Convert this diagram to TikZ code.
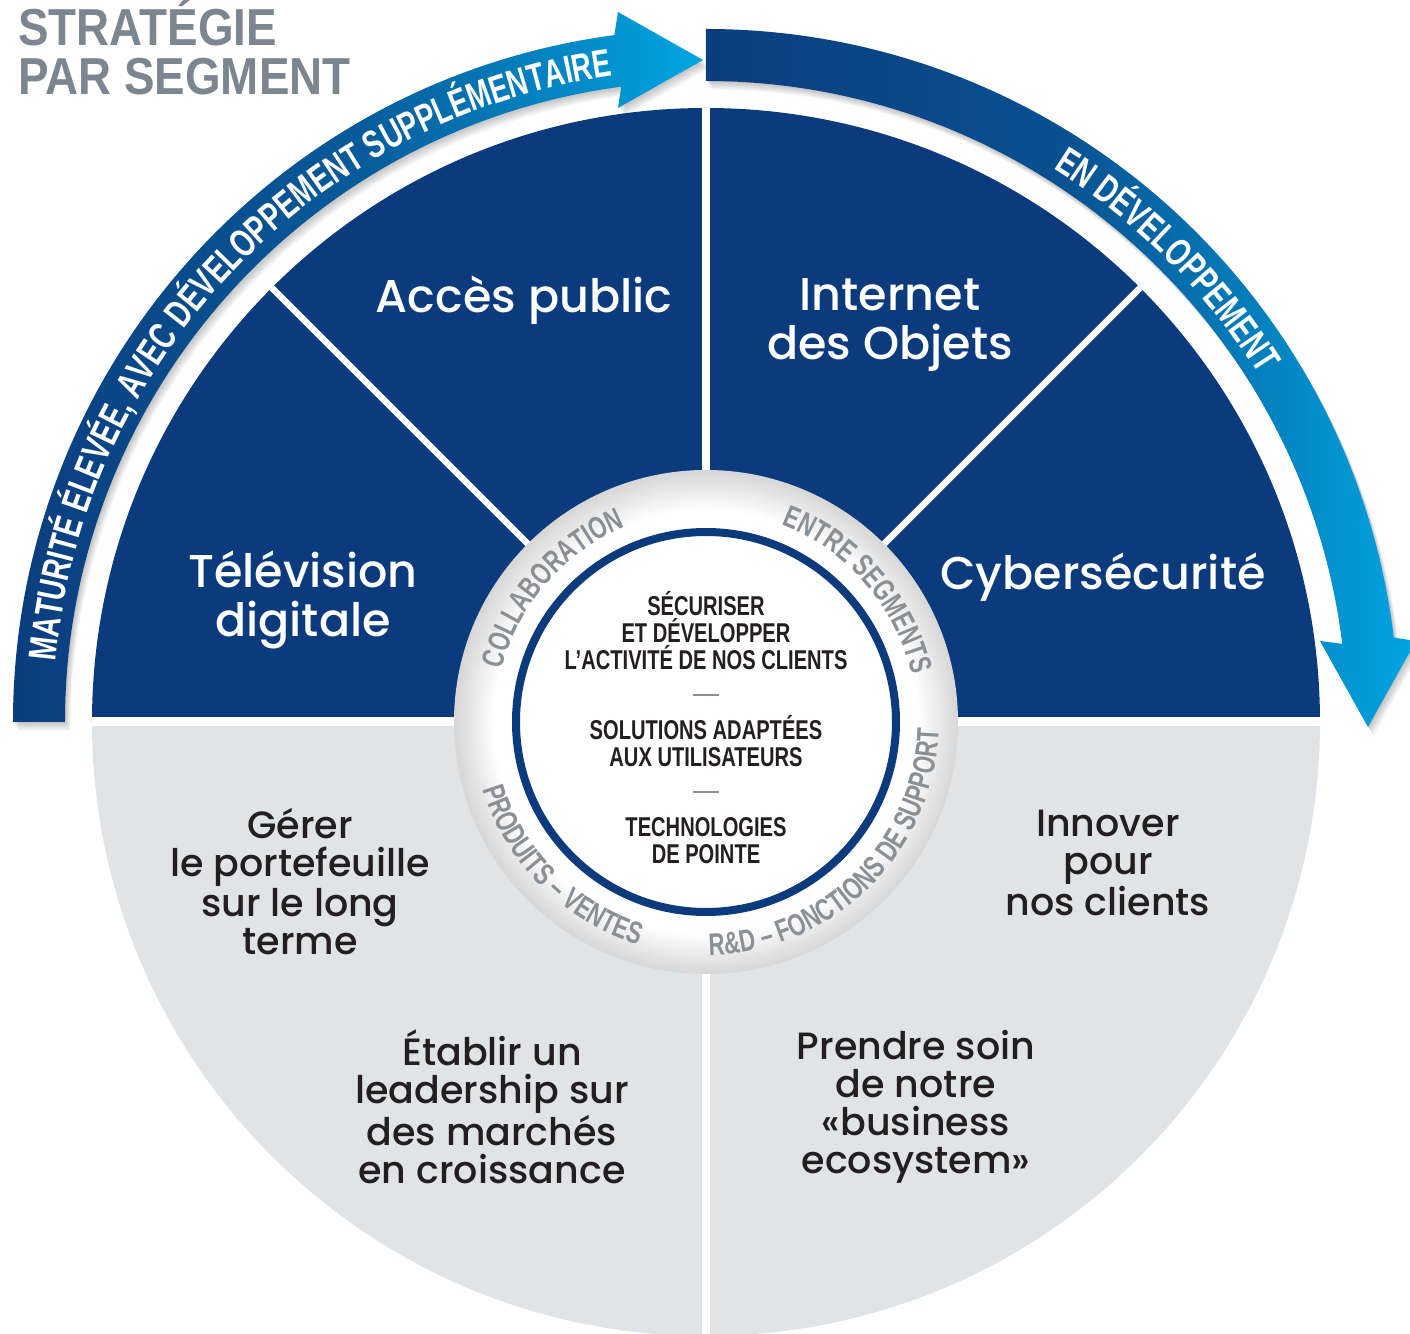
\documentclass[tikz,border=0pt]{standalone}
\usepackage{fontspec}
\setmainfont{Liberation Sans}
\IfFontExistsTF{Poppins Medium}{\newfontfamily\segfont{Poppins Medium}}{\newfontfamily\segfont{Poppins}}
\newfontfamily\narrowfont[FakeStretch=0.74]{Liberation Sans Bold}
\newfontfamily\bandfont[FakeStretch=0.71]{Liberation Sans Bold}
\newfontfamily\narrowbold[FakeStretch=0.72]{Liberation Sans Bold}
\newfontfamily\headfont[FakeStretch=0.88]{Liberation Sans Bold}
\usepackage{tikz}
\usetikzlibrary{decorations.text}
\definecolor{navy}{HTML}{0B3B7C}
\definecolor{lowgray}{HTML}{E1E4E7}
\definecolor{arrowdark}{HTML}{0B3D7E}
\definecolor{arrowlight}{HTML}{00A6E2}
\definecolor{ringgray}{HTML}{8A9096}
\definecolor{headgray}{HTML}{7B8691}
\definecolor{ink}{HTML}{231F20}
\newcommand\arrowfont{\bandfont\fontsize{19.5}{19.5}\selectfont}
\newcommand\ringfont{\narrowbold\fontsize{15.5}{15.5}\selectfont}
\pgfdeclareradialshading{hubglow}{\pgfpoint{0bp}{0bp}}{color(0bp)=(white); color(21bp)=(white); color(25bp)=(black!16); color(50bp)=(black!16)}
\tikzset{
  seam/.style={draw=white, line width=3.2pt},
  headline/.style={text=headgray, font=\headfont\fontsize{26}{24.5}\selectfont, align=left, anchor=west, inner sep=0pt},
  segtext/.style={text=white, font=\segfont\fontsize{23}{24.5}\selectfont, align=center},
  lowtext/.style={text=ink, font=\segfont\fontsize{19}{19}\selectfont, align=center},
  coretext/.style={text=ink, font=\narrowfont\fontsize{13.6}{13.5}\selectfont, align=center},
  ringlabel/.style={decorate, decoration={text along path, text align=center, text color=ringgray, text={|\ringfont|#1}}},
  bandlabel/.style={decorate, decoration={text along path, text align=center, text color=white, text={|\arrowfont|#1}}},
}
\newcommand\sepdash{\textcolor{ringgray}{\rule[4.6pt]{13pt}{0.9pt}}}

\begin{document}
\begin{tikzpicture}[x=0.5pt, y=0.5pt]
  \def\R{614}   % wheel
  \def\rh{252}  % white hub
  \def\ri{190}  % blue ring in the hub
  \def\bi{641}  % arrow band, inner edge
  \def\bo{693}  % arrow band, outer edge
  \def\bandL{(180:\bo) arc[start angle=180, end angle=97.6, radius=\bo] -- (-88,710) -- (-3,662) -- (-88,614) -- (97.6:\bi) arc[start angle=97.6, end angle=180, radius=\bi] -- cycle}
  \def\bandR{(90:\bo) arc[start angle=90, end angle=7, radius=\bo] -- (710,81) -- (662,-5) -- (614,81) -- (7:\bi) arc[start angle=7, end angle=90, radius=\bi] -- cycle}

  \useasboundingbox (-706,-612) rectangle (704,722);
  \coordinate (O) at (0,0);

  % wheel: segments on top, goals below
  \fill[lowgray] (0:\R) arc[start angle=0, end angle=-180, radius=\R] -- cycle;
  \fill[navy] (0:\R) arc[start angle=0, end angle=180, radius=\R] -- cycle;
  \draw[seam, line width=4.5pt] (180:\R) -- (0:\R);
  \draw[seam, line width=3.6pt] (O) -- (90:\R);
  \draw[seam, line width=3.6pt] (O) -- (-90:\R);
  \foreach \a in {45,135}
    \draw[seam] (O) -- (\a:\R);

  % hub
  \shade[shading=hubglow] (O) circle (\rh);
  \draw[navy, line width=4pt] (O) circle (\ri);

  % arrows, soft shadow first
  \foreach \k in {1,...,8} {
    \fill[black, opacity=0.03, shift={(0.7*\k,-1.1*\k)}] \bandL;
    \fill[black, opacity=0.03, shift={(0.7*\k,-1.1*\k)}] \bandR;
  }
  \shade[left color=arrowdark, right color=arrowlight, middle color=arrowdark!72!arrowlight] \bandL;
  \shade[left color=arrowdark, right color=arrowlight, middle color=arrowdark!82!arrowlight] \bandR;

  \path[bandlabel={MATURITÉ ÉLEVÉE, AVEC DÉVELOPPEMENT SUPPLÉMENTAIRE}] (179:653) arc[start angle=179, end angle=94, radius=653];
  \path[bandlabel={EN DÉVELOPPEMENT}] (75:653) arc[start angle=75, end angle=15, radius=653];

  % words around the hub
  \path[ringlabel={COLLABORATION}] (174:211) arc[start angle=174, end angle=104, radius=211];
  \path[ringlabel={ENTRE SEGMENTS}] (81:211) arc[start angle=81, end angle=1, radius=211];
  \path[ringlabel={PRODUITS – VENTES}] (-170:233) arc[start angle=-170, end angle=-100, radius=233];
  \path[ringlabel={R{\&}D – FONCTIONS DE SUPPORT}] (-95:233) arc[start angle=-95, end angle=4, radius=233];

  \node[headline] (head) at (-688,675) {STRATÉGIE\\PAR SEGMENT};

  \node[segtext] (acces) at (-182,422) {Accès public};
  \node[segtext] (iot) at (184,397) {Internet\\des Objets};
  \node[segtext] (tv) at (-403,122) {Télévision\\digitale};
  \node[segtext] (cyber) at (397,145) {Cybersécurité};

  \node[lowtext] (gerer) at (-406,-160) {Gérer\\le portefeuille\\sur le long\\terme};
  \node[lowtext] (innover) at (402,-141) {Innover\\pour\\nos clients};
  \node[lowtext] (etablir) at (-214,-385) {Établir un\\leadership sur\\des marchés\\en croissance};
  \node[lowtext] (prendre) at (210,-385) {Prendre soin\\de notre\\«business\\ecosystem»};

  \node[coretext] (core) at (0,-6) {SÉCURISER\\ET DÉVELOPPER\\L’ACTIVITÉ DE NOS CLIENTS\\[4pt]
    \sepdash\\[4pt]
    SOLUTIONS ADAPTÉES\\AUX UTILISATEURS\\[4pt]
    \sepdash\\[4pt]
    TECHNOLOGIES\\DE POINTE};
\end{tikzpicture}
\end{document}
